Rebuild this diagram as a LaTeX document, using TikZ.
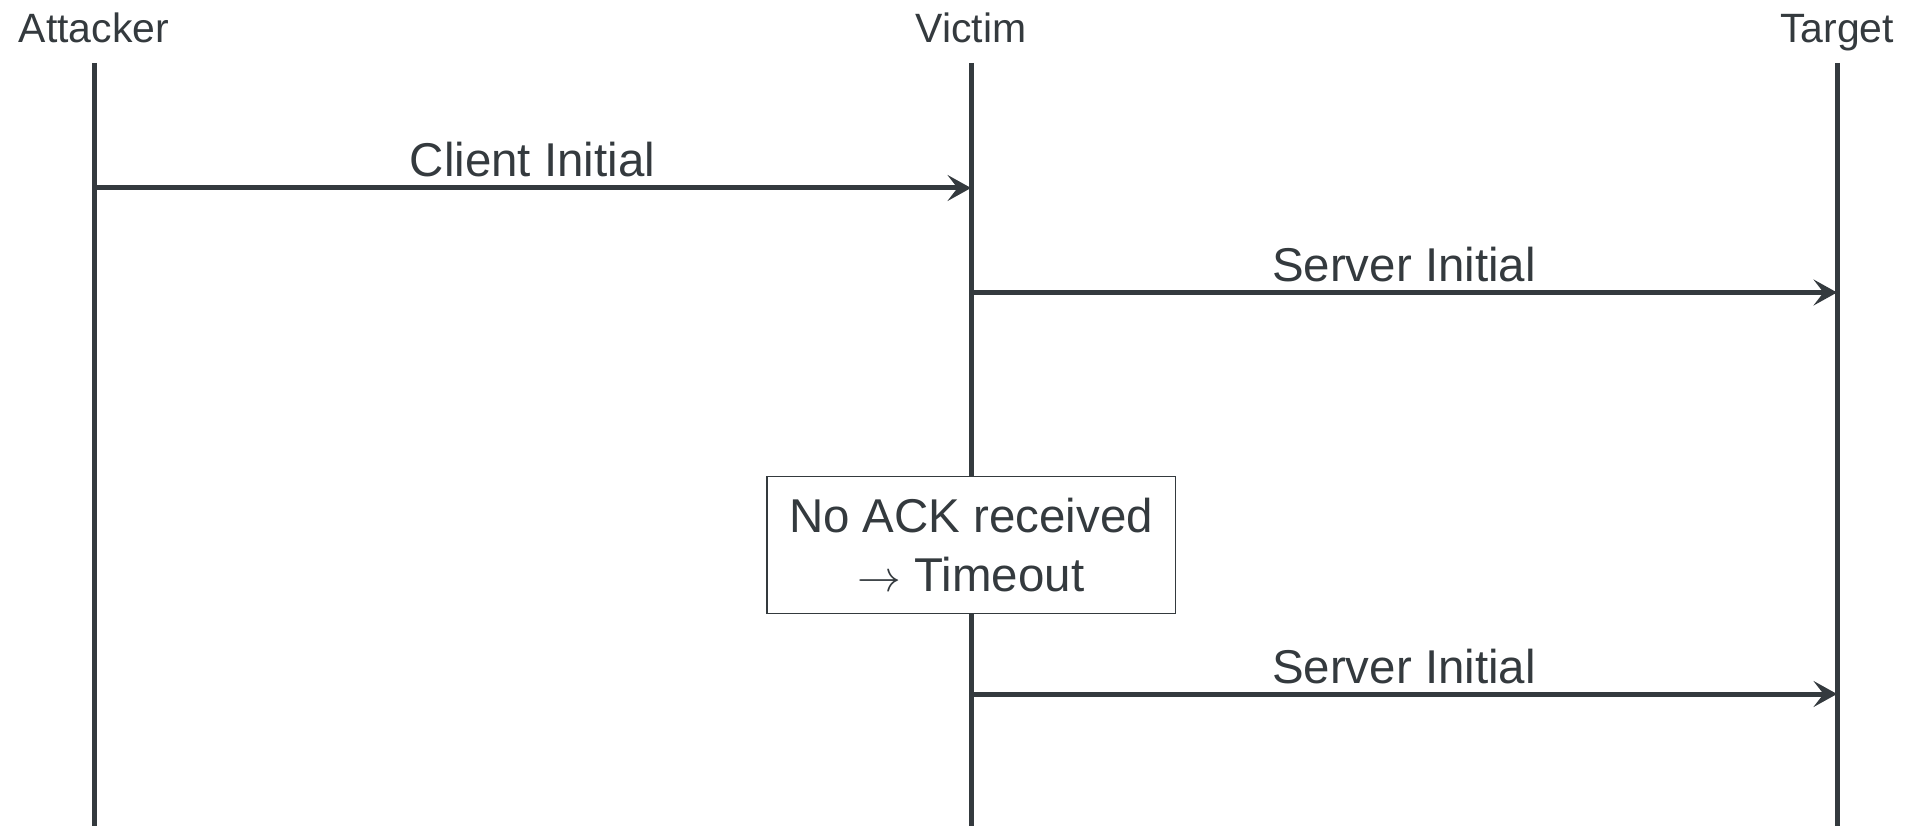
\documentclass[tikz,border=0pt]{standalone}
\usepackage{fontspec}
\setmainfont{Liberation Sans}
\usetikzlibrary{arrows.meta}
\definecolor{InkGray}{RGB}{52,58,62}
\tikzset{
	party/.style={anchor=base,text=InkGray,inner sep=0pt,font=\fontsize{23.3}{28}\selectfont},
	lifeline/.style={draw=InkGray,line width=0.1cm},
	msg/.style={draw=InkGray,line width=0.1cm,-{Stealth[length=0.47cm,width=0.52cm,inset=0.2cm]}},
	msglabel/.style={anchor=base,yshift=0.22cm,inner sep=0pt,text=InkGray,font=\fontsize{27}{32}\selectfont},
	note/.style={draw=InkGray,line width=0.85pt,fill=white,minimum width=8.17cm,minimum height=2.73cm,
		align=center,inner sep=0pt,text=InkGray,font=\fontsize{27}{33.4}\selectfont},
}

\begin{document}
\begin{tikzpicture}
					\useasboundingbox (0,0) rectangle (38.22,-16.52);
					\node[party] (attacker) at (1.88,-0.86) {Attacker};
					\node[party] (victim) at (19.42,-0.86) {Victim};
					\node[party] (target) at (36.74,-0.86) {Target};
					\coordinate (attTop) at (1.88,-1.26);
					\coordinate (vicTop) at (19.42,-1.26);
					\coordinate (tgtTop) at (36.74,-1.26);
					\coordinate (attBot) at (1.88,-16.52);
					\coordinate (vicBot) at (19.42,-16.52);
					\coordinate (tgtBot) at (36.74,-16.52);
					\draw[lifeline] (attTop)--(attBot);
					\draw[lifeline] (vicTop)--(vicBot);
					\draw[lifeline] (tgtTop)--(tgtBot);
					\coordinate (clientInit) at (0,-3.76);
					\coordinate (serverInit) at (0,-5.85);
					\coordinate (serverRetry) at (0,-13.88);
					\draw[msg] (attTop |- clientInit)--(vicTop |- clientInit)
						node[msglabel,midway] {Client Initial};
					\draw[msg] (vicTop |- serverInit)--(tgtTop |- serverInit)
						node[msglabel,midway] {Server Initial};
					\draw[msg] (vicTop |- serverRetry)--(tgtTop |- serverRetry)
						node[msglabel,midway] {Server Initial};
					\node[note] (timeout) at (19.42,-10.9) {No ACK received\\$\rightarrow$ Timeout};
				\end{tikzpicture}
\end{document}
